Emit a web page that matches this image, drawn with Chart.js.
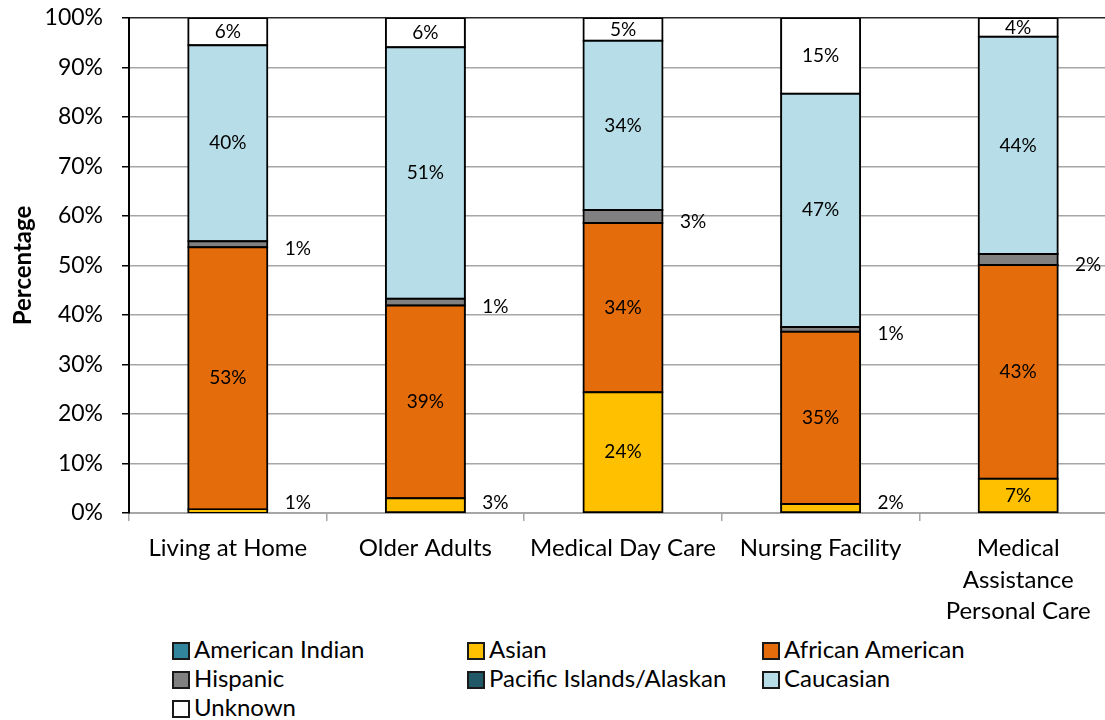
<!DOCTYPE html>
<html>
<head>
<meta charset="utf-8">
<script src="https://cdn.jsdelivr.net/npm/chart.js@4.4.1/dist/chart.umd.min.js"></script>
<style>
  html, body { margin: 0; padding: 0; background: #fff; overflow: hidden; }
  #wrap { position: relative; width: 1105px; height: 720px; overflow: hidden; }
  #chart { position: absolute; left: 0; top: 0; }
  .lg { position: absolute; font: 24px Lato, sans-serif; color: #000; white-space: nowrap; line-height: 30px; height: 30px; }
  .lg i { display: inline-block; width: 14px; height: 14px; border: 2px solid #1a1a1a; vertical-align: middle; margin-right: 4px; position: relative; top: -1px; }
</style>
</head>
<body>
<div id="wrap">
  <canvas id="chart" width="1117" height="630"></canvas>
  <div id="legend"></div>
</div>
<script>
// categories and series (percent of each program)
const categories = ['Living at Home', 'Older Adults', 'Medical Day Care', 'Nursing Facility', ['Medical', 'Assistance', 'Personal Care']];
const seriesNames = ['American Indian', 'Asian', 'African American', 'Hispanic', 'Pacific Islands/Alaskan', 'Caucasian', 'Unknown'];
const americanIndian = [0, 0, 0, 0, 0];
const asian = [0.7, 3.0, 24.4, 1.8, 6.9];
const africanAmerican = [53.0, 38.9, 34.2, 34.8, 43.2];
const hispanic = [1.2, 1.4, 2.6, 1.0, 2.2];
const pacificIslands = [0, 0, 0, 0, 0];
const caucasian = [39.6, 50.8, 34.2, 47.1, 43.9];
const unknown = [5.5, 5.9, 4.6, 15.3, 3.8];
const yTicks = [0, 10, 20, 30, 40, 50, 60, 70, 80, 90, 100];

const seriesData = [americanIndian, asian, africanAmerican, hispanic, pacificIslands, caucasian, unknown];
const colors = ['#31859c', '#ffc000', '#e46c0a', '#808080', '#215968', '#b7dee8', '#ffffff'];

// draw the % labels, small segments go to the right of the bar
const valueLabels = {
    id: 'valueLabels',
    afterDatasetsDraw(chart) {
        const ctx = chart.ctx;
        const base = chart.scales.y.getPixelForValue(0);
        ctx.save();
        ctx.font = '19px Lato';
        ctx.fillStyle = '#000';
        ctx.textAlign = 'center';
        ctx.textBaseline = 'middle';
        chart.data.datasets.forEach((ds, i) => {
            const meta = chart.getDatasetMeta(i);
            meta.data.forEach((bar, j) => {
                const v = ds.data[j];
                if (!v) return;
                const txt = Math.round(v) + '%';
                const mid = (bar.y + bar.base) / 2;
                if (v >= 3.5) {
                    ctx.fillText(txt, bar.x, mid);
                } else {
                    ctx.fillText(txt, bar.x + 70, Math.min(mid + 5, base - 10));
                }
            });
        });
        ctx.restore();
    }
};

const chart = new Chart(document.getElementById('chart'), {
    type: 'bar',
    data: {
        labels: categories,
        datasets: seriesNames.map((name, i) => {
            const empty = seriesData[i].every(v => v === 0);
            return {
                label: name,
                data: seriesData[i],
                backgroundColor: colors[i],
                borderColor: '#000',
                borderWidth: empty ? 0 : 2,
                inflateAmount: empty ? 0 : 1,
                borderSkipped: false,
                categoryPercentage: 1,
                barPercentage: 0.4
            };
        })
    },
    options: {
        responsive: false,
        animation: false,
        layout: { padding: { top: 18, left: 0, right: 0, bottom: 0 } },
        plugins: {
            legend: { display: false },
            tooltip: { enabled: false }
        },
        scales: {
            x: {
                stacked: true,
                grid: { display: true, drawOnChartArea: false, offset: true, color: '#a6a6a6', lineWidth: 1.5, tickLength: 8 },
                border: { color: '#a6a6a6', width: 2 },
                ticks: { color: '#000', font: { family: 'Lato', size: 24, lineHeight: 1.31 }, padding: 12, maxRotation: 0, autoSkip: false },
                afterFit(scale) { scale.height = 117; }
            },
            y: {
                stacked: true,
                min: 0,
                max: 100,
                afterBuildTicks(scale) { scale.ticks = yTicks.map(v => ({ value: v })); },
                grid: {
                    color: ctx => (ctx.tick && ctx.tick.value === 100) ? '#262626' : '#a6a6a6',
                    lineWidth: 1.5,
                    tickColor: '#000',
                    tickLength: 7
                },
                border: { color: '#000', width: 2 },
                ticks: { color: '#000', font: { family: 'Lato', size: 23 }, padding: 19, callback: v => v + '%' },
                title: { display: true, text: 'Percentage', color: '#000', font: { family: 'Lato', size: 24, weight: 'bold' }, padding: { top: 9, bottom: 0 } },
                afterFit(scale) {
                    scale.width = 129;
                    scale.paddingTop = 0;
                    scale.paddingBottom = 0;
                }
            }
        }
    },
    plugins: [valueLabels]
});

// legend in three fixed columns like the original
const legend = document.getElementById('legend');
const colX = [172, 467, 762];
const rowY = [634, 663, 692];
seriesNames.forEach((name, i) => {
    const el = document.createElement('div');
    el.className = 'lg';
    el.style.left = colX[i % 3] + 'px';
    el.style.top = rowY[Math.floor(i / 3)] + 'px';
    el.innerHTML = '<i style="background:' + colors[i] + '"></i>' + name;
    legend.appendChild(el);
});
</script>
</body>
</html>
